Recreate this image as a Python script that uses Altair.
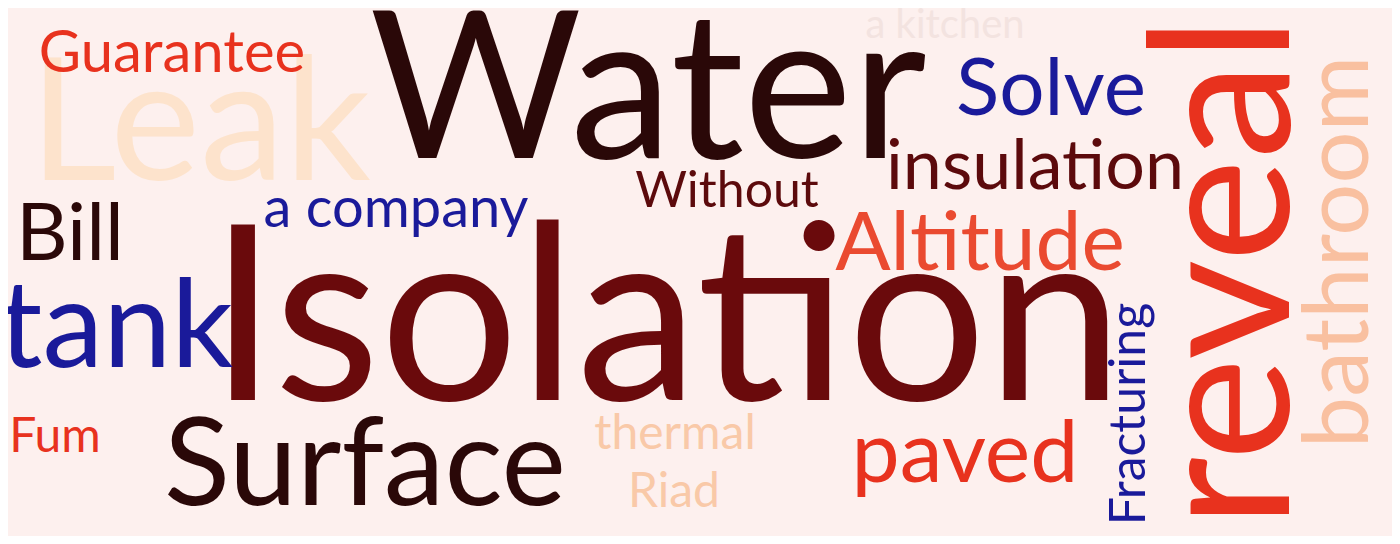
import altair as alt
import pandas as pd

words = ["Water", "Isolation", "Leak", "Guarantee", "a kitchen", "Solve", "insulation",
         "Without", "Altitude", "a company", "Bill", "tank", "Fum", "Surface",
         "thermal", "Riad", "paved", "Fracturing", "reveal", "bathroom"]
xs = [640, 658, 192, 164, 937, 1043, 1027, 719, 972, 388, 62, 108, 47, 357,
      667, 666, 957, 1122, 1222, 1332]
ys = [150, 392, 172, 64, 30, 107, 181, 199, 262, 219, 252, 359, 444, 497,
      441, 499, 474, 406, 264, 244]
sizes = [205, 245, 170, 58, 40, 80, 70, 50, 82, 56, 80, 122, 48, 122,
         48, 48, 86, 50, 195, 92]
angles = [0, 0, 0, 0, 0, 0, 0, 0, 0, 0, 0, 0, 0, 0, 0, 0, 0, 270, 270, 270]
colors = ["#2a0808", "#6a0a0c", "#fde3cc", "#e8321e", "#f3e3e0", "#1a1a9a", "#5c0a0c",
          "#5c0a0c", "#ea4a30", "#1a1a9a", "#2a0808", "#1a1a9a", "#e8321e", "#2a0808",
          "#f9c9a8", "#f9c9a8", "#e8321e", "#1a1a9a", "#e8321e", "#f9c0a0"]

df = pd.DataFrame({"word": words, "x": xs, "y": ys, "size": sizes,
                   "angle": angles, "color": colors})

base = alt.Chart(df).encode(
    x=alt.X("x:Q", scale=alt.Scale(domain=[0, 1384]), axis=None),
    y=alt.Y("y:Q", scale=alt.Scale(domain=[528, 0]), axis=None),
    text="word:N",
    size=alt.Size("size:Q", scale=None, legend=None),
    angle=alt.Angle("angle:Q", scale=None),
    color=alt.Color("color:N", scale=None),
)

flat = base.transform_filter("datum.angle == 0").mark_text(
    font="Lato", baseline="alphabetic", align="center")
rot = base.transform_filter("datum.angle != 0").mark_text(
    font="Lato", baseline="middle", align="center")

chart = alt.layer(flat, rot).properties(
    width=1384, height=528, background="#fdf0ee",
    padding=0, autosize=alt.AutoSizeParams(type="none")
).configure_view(stroke=None)

chart.save("out.html", embed_options={"renderer": "svg", "actions": False})
